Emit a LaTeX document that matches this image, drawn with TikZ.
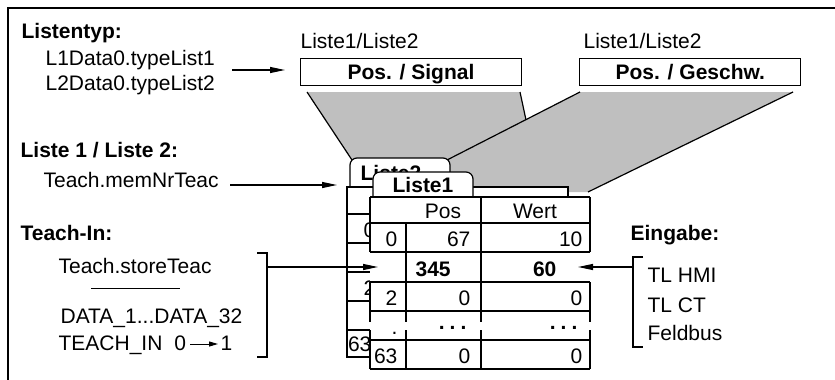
\documentclass[tikz,border=0pt]{standalone}
\usepackage{fontspec}
\setmainfont{Liberation Sans}
\usetikzlibrary{arrows.meta}
\begin{document}
\begin{tikzpicture}[x=1pt,y=-1pt, line width=1.2pt,
  txt/.style={inner sep=0pt, font=\fontsize{21}{25}\selectfont},
  hd/.style={inner sep=0pt, font=\fontsize{21}{25}\selectfont\bfseries},
  arr/.style={-{Triangle[length=15pt,width=6pt]}, line width=1.2pt},
  shade/.style={fill=black!25, draw=none},
  selbox/.style={draw, line width=1.2pt, inner sep=0pt, text height=15pt, text depth=0pt,
    font=\fontsize{21}{25}\selectfont\bfseries},
  tab/.style={draw, fill=white, rounded corners=7pt, line width=1.2pt},
]
\useasboundingbox (0,0) rectangle (835,380);
% frame
\draw[line width=1.5pt] (835,8) -- (8,8) -- (8,380);

% left texts
\node[hd, anchor=base west] (h1) at (21,38) {Listentyp:};
\node[txt, anchor=base west] (t1) at (45,65) {L1Data0.typeList1};
\node[txt, anchor=base west] (t2) at (45,90) {L2Data0.typeList2};
\node[hd, anchor=base west] (h2) at (20,157) {Liste 1 / Liste 2:};
\node[txt, anchor=base west] (t3) at (43,187) {Teach.memNrTeac};
\node[hd, anchor=base west] (h3) at (20,240) {Teach-In:};
\node[txt, anchor=base west] (t4) at (58,273) {Teach.storeTeac};
\node[txt, anchor=base west] (t5) at (60,323) {DATA\_1...DATA\_32};
\node[txt, anchor=base west] (t6) at (58,350) {TEACH\_IN\hspace{12pt}0};
\node[txt, anchor=base west] (t7) at (220,350) {1};
\coordinate (s1) at (91,288);
\coordinate (s2) at (180,288);
\draw[line width=1pt] (s1) -- (s2);
\coordinate (ta) at (190,344);
\coordinate (tb) at (218,344);
\draw[-{Triangle[length=9pt,width=5pt]}, line width=1pt] (ta) -- (tb);

% right texts
\node[hd, anchor=base west] (h4) at (630,240) {Eingabe:};
\node[txt, anchor=base west] (e1) at (647,282) {TL HMI};
\node[txt, anchor=base west] (e2) at (647,312) {TL CT};
\node[txt, anchor=base west] (e3) at (647,340) {Feldbus};

% top boxes
\node[txt, anchor=base west] (l1) at (300,48) {Liste1/Liste2};
\node[txt, anchor=base west] (l2) at (583,48) {Liste1/Liste2};
\node[selbox, minimum width=221pt, minimum height=27pt] (b1) at (411,71.7) {Pos. / Signal};
\node[selbox, minimum width=221pt, minimum height=27pt] (b2) at (690.3,72) {Pos. / Geschw.};

% gray projections
\coordinate (p1a) at (307,92);
\coordinate (p1b) at (520,92);
\coordinate (p1c) at (526,120);
\coordinate (p1d) at (352,160);
\fill[black!25] (p1a) -- (p1b) -- (p1c) -- (447,160) -- (p1d) -- cycle;
\draw (p1a) -- (p1d);
\draw (p1b) -- (p1c);
\coordinate (p2a) at (580,92);
\coordinate (p2b) at (793,92);
\coordinate (p2c) at (588,192);
\coordinate (p2d) at (447,160);
\fill[black!25] (p2a) -- (p2b) -- (p2c) -- (447,192) -- (p2d) -- cycle;
\draw (p2a) -- (p2d);
\draw (p2b) -- (p2c);

% Liste2 (behind)
\draw[tab] (350,188) -- (350,158) -- (450,158) -- (450,188);
\node[hd, anchor=base] (L2) at (391,180) {Liste2};
\draw[fill=white] (347,187) rectangle (568,357);
\foreach \yy in {214,243,272,301,330} \draw (347,\yy) -- (568,\yy);
\node[txt, anchor=base east] (q0) at (376,237) {0};
\node[txt, anchor=base east] (q2) at (376,295) {2};
\node[txt, anchor=base east] (q63) at (372,351) {63};

% Liste1 (front)
\draw[tab] (373,198) -- (373,172) -- (473,172) -- (473,198);
\node[hd, anchor=base] (L1) at (423,192) {Liste1};
\fill[white] (370,197) rectangle (590,369);
\foreach \yy in {197,223,252,282,311,340,369} \draw (370,\yy) -- (590,\yy);
\foreach \xx in {370,590} {
  \draw (\xx,197) -- (\xx,252);
  \draw (\xx,282) -- (\xx,322);
  \draw (\xx,330) -- (\xx,369);
}
\draw (406,223) -- (406,322);
\draw (406,330) -- (406,369);
\draw (481,197) -- (481,322);
\draw (481,330) -- (481,369);

\node[txt, anchor=base] (hp) at (443,218) {Pos};
\node[txt, anchor=base] (hw) at (535,218) {Wert};
\node[txt, anchor=base east] (r0i) at (398,246.5) {0};
\node[txt, anchor=base east] (r0p) at (471,246.5) {67};
\node[txt, anchor=base east] (r0w) at (583,246.5) {10};
\node[hd, anchor=base west] (r1p) at (415,276) {345};
\node[hd, anchor=base east] (r1w) at (557,276) {60};
\node[txt, anchor=base east] (r2i) at (398,305.5) {2};
\node[txt, anchor=base east] (r2p) at (471,305.5) {0};
\node[txt, anchor=base east] (r2w) at (583,305.5) {0};
\node[txt, anchor=base east] (rdi) at (398,334) {.};
\node[hd, anchor=base east] (rdp) at (467,329) {.\hspace{5pt}.\hspace{5pt}.};
\node[hd, anchor=base east] (rdw) at (578,329) {.\hspace{5pt}.\hspace{5pt}.};
\node[txt, anchor=base east] (r3i) at (398,363.5) {63};
\node[txt, anchor=base east] (r3p) at (471,363.5) {0};
\node[txt, anchor=base east] (r3w) at (583,363.5) {0};

% arrows
\coordinate (a1s) at (232,70);
\coordinate (a1e) at (285,70);
\draw[arr] (a1s) -- (a1e);
\coordinate (a2s) at (230,185);
\coordinate (a2e) at (337,185);
\draw[arr] (a2s) -- (a2e);
% Teach-In bracket
\coordinate (tk1) at (257,253);
\coordinate (tk2) at (267,253);
\coordinate (tk3) at (267,357);
\coordinate (tk4) at (257,357);
\draw (tk1) -- (tk2) -- (tk3) -- (tk4);
\coordinate (a3s) at (267,267);
\coordinate (a3e) at (378,267);
\draw[arr] (a3s) -- (a3e);
% Eingabe bracket
\coordinate (ek1) at (643,257);
\coordinate (ek2) at (633,257);
\coordinate (ek3) at (633,347);
\coordinate (ek4) at (643,347);
\draw (ek1) -- (ek2) -- (ek3) -- (ek4);
\coordinate (a4s) at (633,267);
\coordinate (a4e) at (578,267);
\draw[arr] (a4s) -- (a4e);
\end{tikzpicture}
\end{document}
